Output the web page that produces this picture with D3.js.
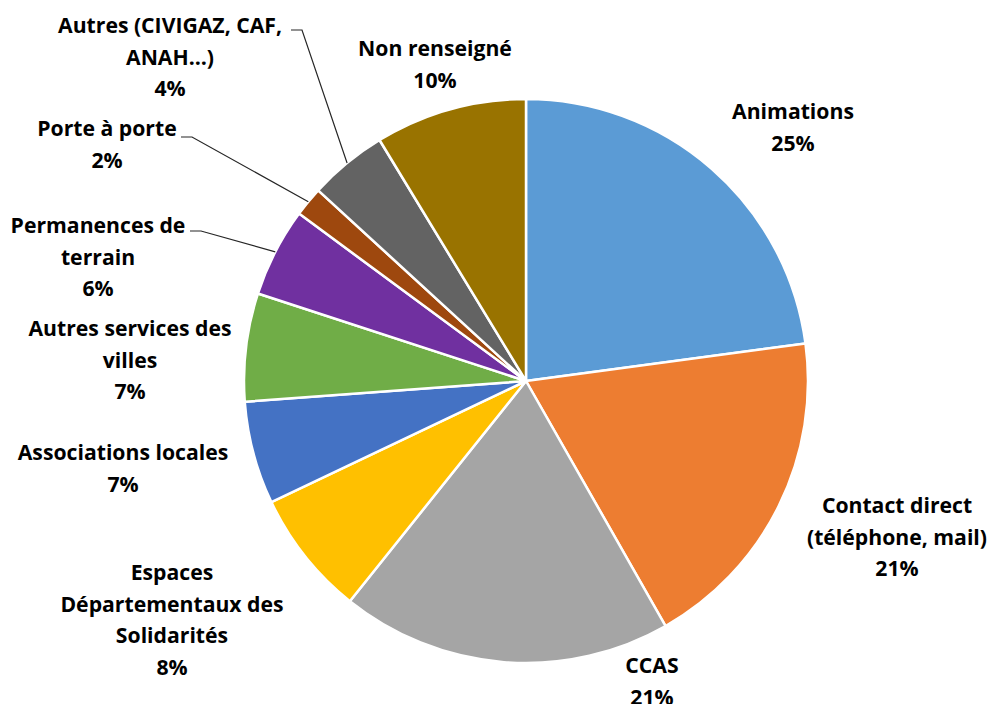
<!DOCTYPE html>
<html>
<head>
<meta charset="utf-8">
<script src="https://cdn.jsdelivr.net/npm/d3@7"></script>
<style>
  body { margin: 0; background: #fff; }
  .label { font-family: "Open Sans", Lato, sans-serif; font-weight: bold; font-size: 21.2px; fill: #000; }
</style>
</head>
<body>
<div class="wrapper"></div>
<script>
var categories = ["Animations", "Contact direct (téléphone, mail)", "CCAS",
    "Espaces Départementaux des Solidarités", "Associations locales",
    "Autres services des villes", "Permanences de terrain", "Porte à porte",
    "Autres (CIVIGAZ, CAF, ANAH…)", "Non renseigné"];
var shares = [22.9, 18.9, 19.0, 7.2, 5.9, 6.2, 5.1, 1.7, 4.5, 8.7];
var percentLabels = ["25%", "21%", "21%", "8%", "7%", "7%", "6%", "2%", "4%", "10%"];
var labelLines = [
    ["Animations"],
    ["Contact direct", "(téléphone, mail)"],
    ["CCAS"],
    ["Espaces", "Départementaux des", "Solidarités"],
    ["Associations locales"],
    ["Autres services des", "villes"],
    ["Permanences de", "terrain"],
    ["Porte à porte"],
    ["Autres (CIVIGAZ, CAF,", "ANAH…)"],
    ["Non renseigné"]
];
var colors = ["#5B9BD5", "#ED7D31", "#A5A5A5", "#FFC000", "#4472C4",
    "#70AD47", "#7030A0", "#9E480E", "#636363", "#997300"];

var width = 989,
    height = 704,
    cx = 526,
    cy = 381,
    radius = 282,
    lineH = 31.5;

// label block: centre x, baseline of first line, and optional leader start
var labelLayout = [
    {x: 793, y: 119},
    {x: 897, y: 513},
    {x: 652, y: 673},
    {x: 172, y: 580},
    {x: 123, y: 460},
    {x: 130, y: 336},
    {x: 98, y: 233, leader: [190, 231]},
    {x: 107, y: 136, leader: [181, 137]},
    {x: 170, y: 33, leader: [291, 30]},
    {x: 435, y: 56}
];

var svg = d3.select(".wrapper").append("svg")
    .attr("width", width)
    .attr("height", height);

var pie = d3.pie().sort(null).value(function(d) { return d; });
var arcs = pie(shares);

var arc = d3.arc().innerRadius(0).outerRadius(radius);

var g = svg.append("g").attr("transform", "translate(" + cx + "," + cy + ")");

g.selectAll("path.slice")
    .data(arcs)
    .enter().append("path")
    .attr("class", "slice")
    .attr("d", arc)
    .attr("fill", function(d, i) { return colors[i]; })
    .attr("stroke", "#fff")
    .attr("stroke-width", 2.5)
    .attr("stroke-linejoin", "round");

// leader lines for the small slices
arcs.forEach(function(d, i) {
    var lay = labelLayout[i];
    if (!lay.leader) return;
    var mid = (d.startAngle + d.endAngle) / 2;
    var ex = cx + radius * Math.sin(mid),
        ey = cy - radius * Math.cos(mid);
    svg.append("polyline")
        .attr("points", [[lay.leader[0], lay.leader[1]], [lay.leader[0] + 11, lay.leader[1]], [ex, ey]].join(" "))
        .attr("fill", "none")
        .attr("stroke", "#262626")
        .attr("stroke-width", 1.2);
});

// labels
labelLines.forEach(function(lines, i) {
    var lay = labelLayout[i];
    var t = svg.append("text")
        .attr("class", "label")
        .attr("text-anchor", "middle");
    lines.concat([percentLabels[i]]).forEach(function(s, k) {
        t.append("tspan")
            .attr("x", lay.x)
            .attr("y", lay.y + k * lineH)
            .text(s);
    });
});
</script>
</body>
</html>
